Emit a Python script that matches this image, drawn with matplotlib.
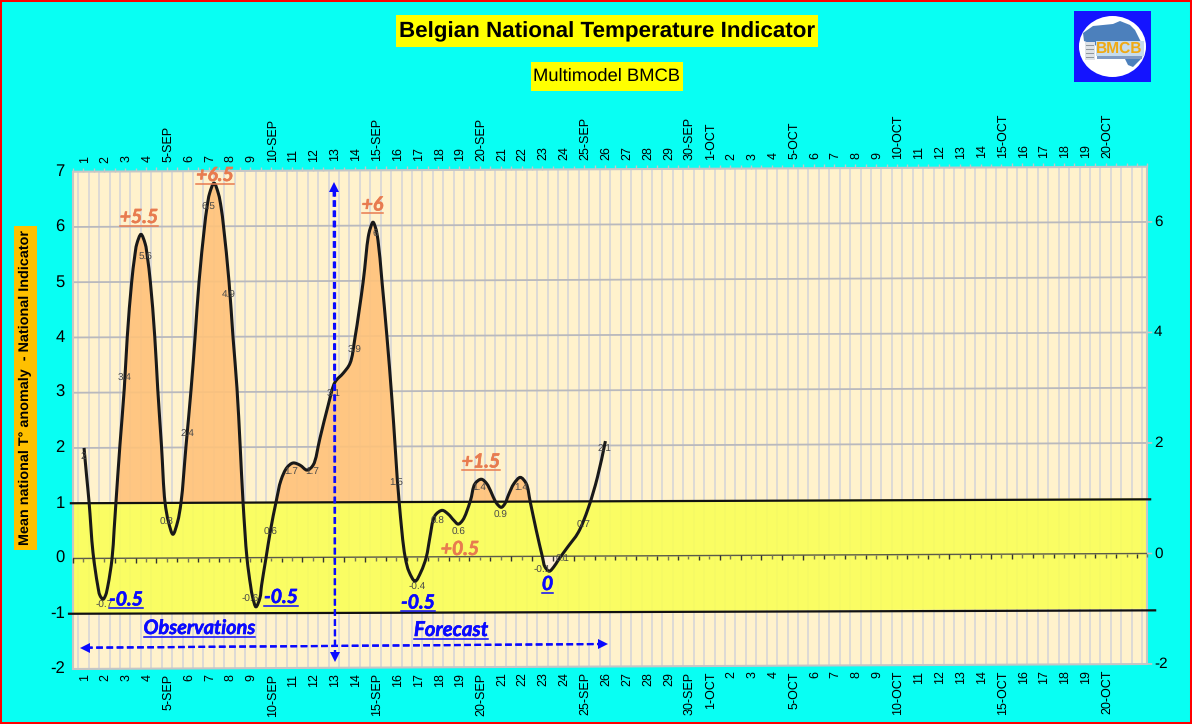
import matplotlib
matplotlib.use("Agg")
import matplotlib.pyplot as plt
import matplotlib.patheffects as pe
import numpy as np
from matplotlib.patches import Ellipse, PathPatch, Polygon, Rectangle
from matplotlib.path import Path
from matplotlib.transforms import Affine2D, IdentityTransform

W, H = 1192, 724

# Curve: day position and anomaly
curve_day = [1.05, 1.17, 1.29, 1.48, 1.70, 1.81, 1.96, 2.08, 2.20, 2.39, 2.49, 2.58, 2.77, 2.98, 3.12, 3.33, 3.47,
             3.58, 3.78, 3.98, 4.09, 4.23, 4.44, 4.58, 4.76, 4.93, 5.10, 5.31, 5.53, 5.70, 5.94, 6.18, 6.37, 6.56,
             6.82, 6.94, 7.07, 7.28, 7.49, 7.62, 7.74, 8.00, 8.19, 8.38, 8.53, 8.67, 8.86, 9.03, 9.14, 9.29, 9.48,
             9.56, 9.77, 9.99, 10.25, 10.49, 10.78, 11.07, 11.40, 11.74, 12.03, 12.36, 12.75, 13.08, 13.47, 13.80,
             14.04, 14.43, 14.67, 14.77, 14.90, 15.03, 15.14, 15.33, 15.57, 15.81, 16.15, 16.44, 16.63, 16.92,
             17.20, 17.45, 17.63, 17.78, 17.92, 18.22, 18.51, 18.77, 18.98, 19.20, 19.56, 19.79, 20.09, 20.35,
             20.83, 21.05, 21.23, 21.39, 21.66, 21.96, 22.24, 22.44, 22.72, 23.02, 23.14, 23.35, 23.57, 23.78,
             24.22, 24.74, 25.22, 25.66, 26.04]
curve_val = [2.00, 1.50, 1.02, 0.10, -0.48, -0.67, -0.74, -0.67, -0.48, -0.01, 0.51, 1.02, 2.05, 3.08, 4.00, 4.99,
             5.44, 5.69, 5.86, 5.69, 5.44, 4.99, 4.00, 3.07, 2.04, 1.01, 0.65, 0.43, 0.65, 1.01, 2.04, 3.05, 3.99,
             4.99, 5.98, 6.34, 6.60, 6.78, 6.59, 6.34, 5.98, 4.99, 3.99, 3.07, 2.04, 1.01, -0.01, -0.50, -0.73,
             -0.89, -0.73, -0.50, -0.01, 0.50, 1.00, 1.40, 1.63, 1.71, 1.67, 1.58, 1.67, 2.16, 2.75, 3.17, 3.33,
             3.51, 3.98, 4.99, 5.79, 5.95, 6.06, 5.95, 5.73, 4.99, 3.98, 2.84, 1.01, 0.00, -0.27, -0.44, -0.27,
             -0.01, 0.36, 0.66, 0.77, 0.84, 0.77, 0.66, 0.59, 0.66, 1.00, 1.32, 1.40, 1.32,
             0.96, 0.89, 0.96, 1.11, 1.32, 1.43, 1.32, 0.98, 0.48, -0.01, -0.19, -0.27, -0.19, -0.07,
             0.16, 0.43, 0.87, 1.43, 2.08]

# Small value labels, one per day
label_day = list(range(1, 27))
label_val = [2, -0.7, 3.4, 5.6, 0.8, 2.4, 6.5, 4.9, -0.6, 0.6, 1.7, 1.7, 3.1, 3.9, 6, 1.5, -0.4, 0.8, 0.6, 1.4,
             0.9, 1.4, -0.1, 0.1, 0.7, 2.1]

day_labels = ["1", "2", "3", "4", "5-SEP", "6", "7", "8", "9", "10-SEP", "11", "12", "13", "14", "15-SEP", "16",
              "17", "18", "19", "20-SEP", "21", "22", "23", "24", "25-SEP", "26", "27", "28", "29", "30-SEP",
              "1-OCT", "2", "3", "4", "5-OCT", "6", "7", "8", "9", "10-OCT", "11", "12", "13", "14", "15-OCT",
              "16", "17", "18", "19", "20-OCT"]
left_ticks = [-2, -1, 0, 1, 2, 3, 4, 5, 6, 7]
right_ticks = [-2, 0, 2, 4, 6]

CYAN = "#08FFF3"
CREAM = "#FFF2CC"
BLUE = "#0A0AFF"
ORANGE_TXT = "#E87B4F"
X0, X1 = 0.52, 52.0

plt.rcParams["font.family"] = ["Liberation Sans", "DejaVu Sans"]
plt.rcParams["text.hinting"] = "none"
fig = plt.figure(figsize=(W / 100, H / 100), dpi=100, facecolor=CYAN)
ax = fig.add_axes([73 / W, (H - 669) / H, 1074 / W, 497.3 / H])
ax.set_xlim(X0, X1)
ax.set_ylim(-2, 7)
ax.axis("off")

# the whole chart leans up by 5 px from left to right
k = 5 / 1074
tilt = ax.transData + Affine2D.from_values(1, k, 0, 1, 0, -k * 73)
screen = IdentityTransform()


def py(y):
    return H - y


def smooth_path(xs, ys):
    # centripetal Catmull-Rom through the read points, measured on the screen scale
    p = np.column_stack([xs, ys])
    q = p * [20.86, 55.3]
    dt = np.sqrt(np.hypot(*np.diff(q, axis=0).T))
    t = np.r_[0, np.cumsum(dt)]
    d = np.gradient(p, t, axis=0)
    verts = [tuple(p[0])]
    codes = [Path.MOVETO]
    for i in range(len(dt)):
        verts.append(tuple(p[i] + d[i] * dt[i] / 3))
        verts.append(tuple(p[i + 1] - d[i + 1] * dt[i] / 3))
        verts.append(tuple(p[i + 1]))
        codes += [Path.CURVE4] * 3
    return verts, codes


verts, codes = smooth_path(curve_day, curve_val)
curve_path = Path(verts, codes)
below = Path(verts + [(curve_day[-1], -3), (curve_day[0], -3), verts[0]], codes + [Path.LINETO] * 3)
above = Path(verts + [(curve_day[-1], 8), (curve_day[0], 8), verts[0]], codes + [Path.LINETO] * 3)

# plot background and grid
ax.add_patch(Rectangle((X0, -2), X1 - X0, 9, fc=CREAM, ec="none", transform=tilt, clip_on=False, zorder=1))
grid_x = 0.77 + 0.5 * np.arange(103)
ax.vlines(grid_x, -2, 7, color="#DDDAD6", lw=1.4, transform=tilt, clip_on=False, zorder=2)
ax.hlines([2, 3, 4, 5, 6], X0, X1, color="#B9B9BD", lw=1.3, transform=tilt, clip_on=False, zorder=2)

# bands
ax.add_patch(Rectangle((X0, -1), X1 - X0, 2, fc="#FAFF55", ec="none", alpha=0.88, transform=tilt,
                       clip_on=False, zorder=3))
orange = Rectangle((2, 1), 21.5, 6.5, fc="#FFC27A", ec="none", alpha=0.9, transform=tilt, zorder=3)
ax.add_patch(orange)
orange.set_clip_path(below, tilt)
dip = Rectangle((22.8, -1), 1.2, 1, fc="#FFF1D8", ec="none", transform=tilt, zorder=3)
ax.add_patch(dip)
dip.set_clip_path(above, tilt)

# frame, top ticks, zero axis with its ticks
ax.add_patch(Rectangle((X0, -2), X1 - X0, 9, fc="none", ec="#C6C6C6", lw=1.5, transform=tilt, clip_on=False,
                       zorder=4))
tick_x = X0 + 0.5 * np.arange(104)
ax.vlines(tick_x, 7, 7.07, color="#C6C6C6", lw=1, transform=tilt, clip_on=False, zorder=4)
ax.hlines(0, X0, X1, color="#5A5A4A", lw=1, transform=tilt, clip_on=False, zorder=4)
ax.vlines(tick_x[::2], -0.08, 0, color="#333333", lw=1, transform=tilt, clip_on=False, zorder=4)
ax.vlines(tick_x[1::2], -0.07, 0, color="#777755", lw=1, transform=tilt, clip_on=False, zorder=4)
ax.hlines(right_ticks, X1, X1 + 0.25, color="#C6C6C6", lw=1.2, transform=tilt, clip_on=False, zorder=4)

# black limits at +1 and -1
ax.plot([0.42, 52.15], [1, 0.98], color="#111111", lw=1.6, transform=tilt, clip_on=False, zorder=5)
ax.plot([0.33, 52.39], [-1, -1.03], color="#111111", lw=1.6, transform=tilt, clip_on=False, zorder=5)

# curve
ax.add_patch(PathPatch(curve_path, fc="none", ec="#191919", lw=2.2, transform=tilt, clip_on=False, zorder=6,
                       capstyle="butt"))

# value labels
for d, v in zip(label_day, label_val):
    ax.annotate(f"{v}", (d, v), xycoords=tilt, xytext=(0, -6), textcoords="offset points", ha="center",
                va="center", fontsize=7.2, color="#484848", zorder=7, annotation_clip=False)

# tick labels
for i, s in enumerate(day_labels):
    d = i + 1
    ax.annotate(s, (d, 7), xycoords=tilt, xytext=(1, 6.5), textcoords="offset points", rotation=90, ha="center",
                va="bottom", fontsize=9, color="black", annotation_clip=False)
    ax.annotate(s, (d, -2), xycoords=tilt, xytext=(1, -4), textcoords="offset points", rotation=90, ha="center",
                va="top", fontsize=9, color="black", annotation_clip=False)
for v in left_ticks:
    ax.annotate(f"{v}", (X0, v), xycoords=tilt, xytext=(-6, 0), textcoords="offset points", ha="right",
                va="center", fontsize=12, annotation_clip=False)
for v in right_ticks:
    ax.annotate(f"{v}", (X1, v), xycoords=tilt, xytext=(5, 0), textcoords="offset points", ha="left",
                va="center", fontsize=11, annotation_clip=False)

# arrows
for xs, ys, mark, mx, my in [((333.7, 335), (190, 654), "^", 333.7, 187),
                             ((335, 335), (190, 654), "v", 335, 657),
                             ((86, 602), (647.7, 644), "<", 85, 647.7),
                             ((86, 602), (647.7, 644), ">", 603, 644)]:
    ax.plot(xs, [py(y) for y in ys], color=BLUE, lw=1.6, ls=(0, (3, 1.6)), transform=screen, clip_on=False,
            zorder=8)
    ax.plot([mx], [py(my)], marker=mark, color=BLUE, ms=7.5, mew=0, transform=screen, clip_on=False, zorder=8)

# big hand-placed comments
renderer = fig.canvas.get_renderer()


def comment(s, x, base, color, size=14, underline=True):
    t = ax.text(x, py(base), s, transform=screen, ha="center", va="baseline", fontsize=size, color=color,
                family="Lato", style="italic", weight="bold", zorder=9, clip_on=False,
                path_effects=[pe.withStroke(linewidth=0.4, foreground=color)])
    if underline:
        bb = t.get_window_extent(renderer)
        ax.plot([bb.x0, bb.x1], [py(base + 2.5)] * 2, color=color, lw=1.1, transform=screen, clip_on=False, zorder=9)


comment("+5.5", 139, 223, ORANGE_TXT)
comment("+6.5", 215, 181, ORANGE_TXT)
comment("+6", 372.5, 210.5, ORANGE_TXT)
comment("+1.5", 481, 467.5, ORANGE_TXT)
comment("+0.5", 460, 555, ORANGE_TXT, underline=False)
comment("-0.5", 126, 605.5, BLUE)
comment("-0.5", 281, 603, BLUE)
comment("-0.5", 418, 608.5, BLUE)
comment("0", 547.5, 590, BLUE)
comment("Observations", 199.5, 634, BLUE, size=14.3)
comment("Forecast", 451, 636, BLUE, size=14.7)


def box(x0, y0, x1, y1, color, zorder=1):
    fig.add_artist(Rectangle((x0, py(y1)), x1 - x0, y1 - y0, fc=color, ec="none", transform=screen, zorder=zorder))


# titles
box(396, 15, 818, 47, "#FFFF00")
fig.text(607 / W, py(32) / H, "Belgian National Temperature Indicator", ha="center", va="center", fontsize=16.1,
         weight="bold", color="black", zorder=3)
box(531, 62, 683, 91, "#FFFF00")
fig.text(607 / W, py(76.5) / H, "Multimodel BMCB", ha="center", va="center", fontsize=13.2, color="black", zorder=3)
box(14, 226, 37, 550, "#FFC000")
fig.text(25.5 / W, py(388) / H, "Mean national T° anomaly  - National Indicator", rotation=90, ha="center",
         va="center", fontsize=10.4, weight="bold", color="black", zorder=3)

# logo
box(1074, 11, 1151, 82, "#1414FF")
fig.add_artist(Ellipse((1112.5, py(46.5)), 67, 61, fc="white", ec="none", transform=screen, zorder=2))
fig.add_artist(Polygon([(1083, py(33)), (1093, py(26)), (1113, py(24)), (1120, py(21)), (1130, py(25)),
                        (1135, py(30)), (1138, py(36)), (1144, py(48)), (1142, py(58)), (1133, py(67)),
                        (1128, py(65)), (1125, py(59)), (1097, py(46)), (1084, py(41))],
                       fc="#4C80BC", ec="none", transform=screen, zorder=3))
box(1096, 41, 1144, 56, "#C6DCEC", zorder=4)
box(1097, 56, 1142, 59, "#7F9CC4", zorder=4)
fig.text(1119.5 / W, py(48.5) / H, "BMCB", ha="center", va="center", fontsize=11.2, weight="bold", color="#F0AA14",
         zorder=5)
box(1085, 42, 1095, 60, "#DDE2E6", zorder=5)
for yy in (45, 49, 53, 57):
    box(1086, yy, 1094, yy + 1, "#8F979E", zorder=6)

# red border
fig.add_artist(Rectangle((0, 0), W, H, fc="none", ec="#FF0000", lw=2.9, transform=screen, zorder=20))

fig.savefig("out.png", dpi=100, facecolor=CYAN)
